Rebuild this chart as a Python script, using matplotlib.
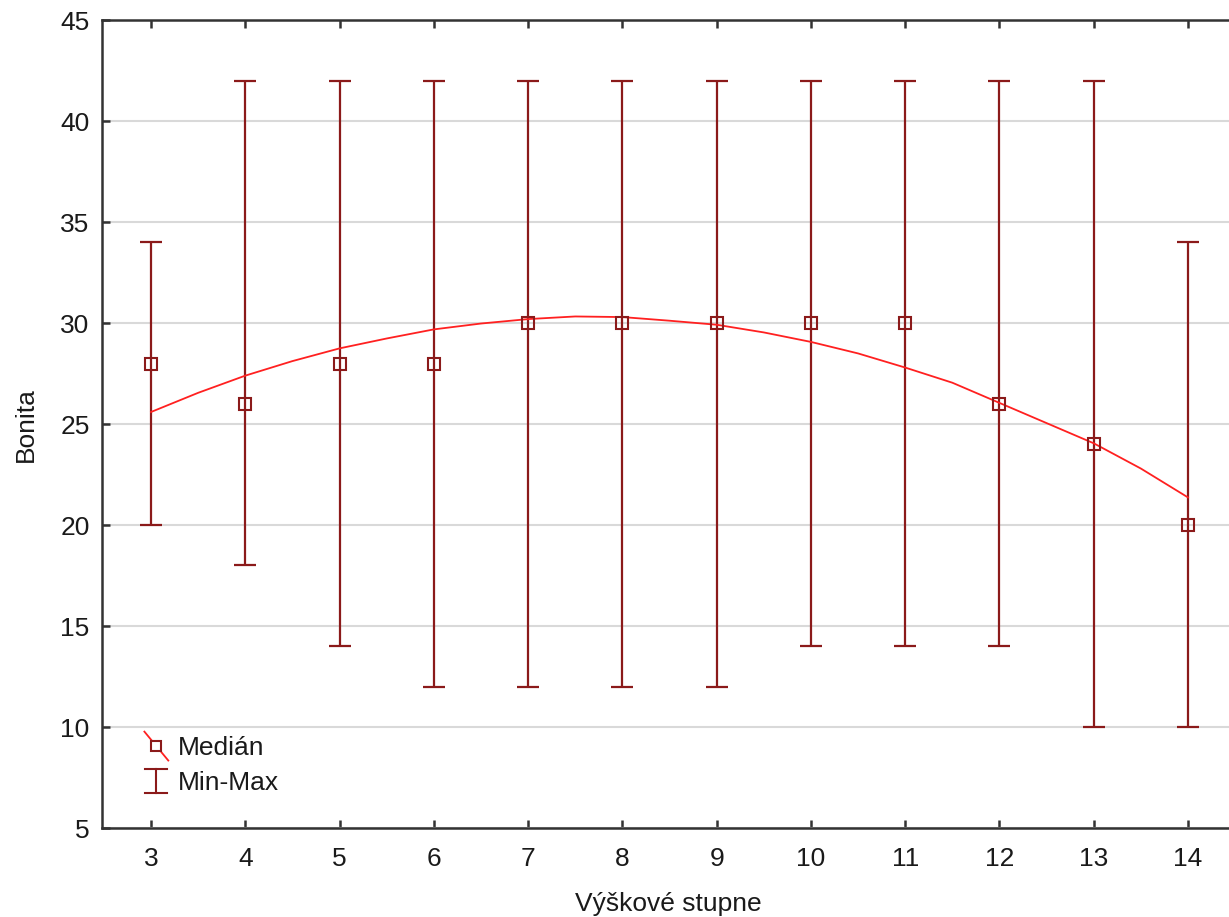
import matplotlib
matplotlib.use("Agg")
import matplotlib.pyplot as plt
from matplotlib.lines import Line2D
from matplotlib.legend_handler import HandlerBase
import numpy as np

plt.rcParams['font.family'] = ['Liberation Sans', 'DejaVu Sans']

# data
stupne = [3, 4, 5, 6, 7, 8, 9, 10, 11, 12, 13, 14]
median = [28, 26, 28, 28, 30, 30, 30, 30, 30, 26, 24, 20]
minimum = [20, 18, 14, 12, 12, 12, 12, 14, 14, 14, 10, 10]
maximum = [34, 42, 42, 42, 42, 42, 42, 42, 42, 42, 42, 34]

# smoothed trend line (read at half steps)
fit_x = [3, 3.5, 4, 4.5, 5, 5.5, 6, 6.5, 7, 7.5, 8, 8.5, 9, 9.5, 10,
         10.5, 11, 11.5, 12, 12.5, 13, 13.5, 14]
fit_y = [25.6, 26.55, 27.4, 28.12, 28.75, 29.24, 29.69, 29.98, 30.2, 30.33, 30.3,
         30.12, 29.92, 29.54, 29.07, 28.5, 27.8, 27.05, 26.05, 25.05, 24.05, 22.8, 21.37]

dark_red = '#8b1a1a'
line_red = '#ff2020'
txt = '#1a1a1a'
fs = 19


class MedianHandler(HandlerBase):
    def create_artists(self, legend, orig_handle, xdescent, ydescent,
                       width, height, fontsize, trans):
        cx = width / 2 - xdescent
        cy = height / 2 - ydescent
        diag = Line2D([cx - 8.6, cx + 8.6], [cy + 10.4, cy - 10.4], color=line_red, lw=1.3,
                      transform=trans)
        mk = Line2D([cx], [cy], marker='s', ms=6.5, mfc='white', mec=dark_red, mew=1.5,
                    ls='none', transform=trans)
        return [diag, mk]


class MinMaxHandler(HandlerBase):
    def create_artists(self, legend, orig_handle, xdescent, ydescent,
                       width, height, fontsize, trans):
        cx = width / 2 - xdescent
        cy = height / 2 - ydescent
        h = 8.6
        c = 8
        v = Line2D([cx, cx], [cy - h, cy + h], color=dark_red, lw=1.5, transform=trans)
        top = Line2D([cx - c, cx + c], [cy + h, cy + h], color=dark_red, lw=1.5, transform=trans)
        bot = Line2D([cx - c, cx + c], [cy - h, cy - h], color=dark_red, lw=1.5, transform=trans)
        return [v, top, bot]


fig = plt.figure(figsize=(12.29, 9.17), dpi=100)
ax = fig.add_axes([0.083, 0.097, 0.922, 0.881])

med = np.array(median)
err = [med - np.array(minimum), np.array(maximum) - med]
ax.errorbar(stupne, median, yerr=err, fmt='none', ecolor=dark_red, elinewidth=1.6,
            capsize=8, capthick=1.6, zorder=3)
ax.plot(fit_x, fit_y, color=line_red, lw=1.3, zorder=4)
ax.plot(stupne, median, ls='none', marker='s', ms=8.3, mfc='none', mec=dark_red,
        mew=1.5, zorder=5)

ax.set_xlim(2.48, 14.5)
ax.set_ylim(5, 45)
ax.set_xticks(stupne)
ax.set_yticks(range(5, 46, 5))
ax.yaxis.grid(True, color='#d9d9d9', lw=1.5)
ax.set_axisbelow(True)

for side in ['left', 'bottom', 'top']:
    ax.spines[side].set_color('#333333')
    ax.spines[side].set_linewidth(1.8)
ax.spines['right'].set_visible(False)
ax.tick_params(direction='in', length=6, width=1.8, color='#333333',
               labelsize=fs, labelcolor=txt, top=True, pad=9)
ax.tick_params(axis='x', pad=14)

ax.set_xlabel('Výškové stupne', fontsize=fs, color=txt, labelpad=15)
ax.set_ylabel('Bonita', fontsize=fs, color=txt, labelpad=16)

h1 = Line2D([], [])
h2 = Line2D([], [])
ax.legend([h1, h2], ['Medián', 'Min-Max'],
          handler_map={h1: MedianHandler(), h2: MinMaxHandler()},
          loc='lower left', bbox_to_anchor=(0.027, 0.028), frameon=False,
          fontsize=fs, handlelength=1.0, handletextpad=0.3, labelspacing=0.4,
          labelcolor=txt, borderaxespad=0)

fig.savefig('out.png', dpi=100)
